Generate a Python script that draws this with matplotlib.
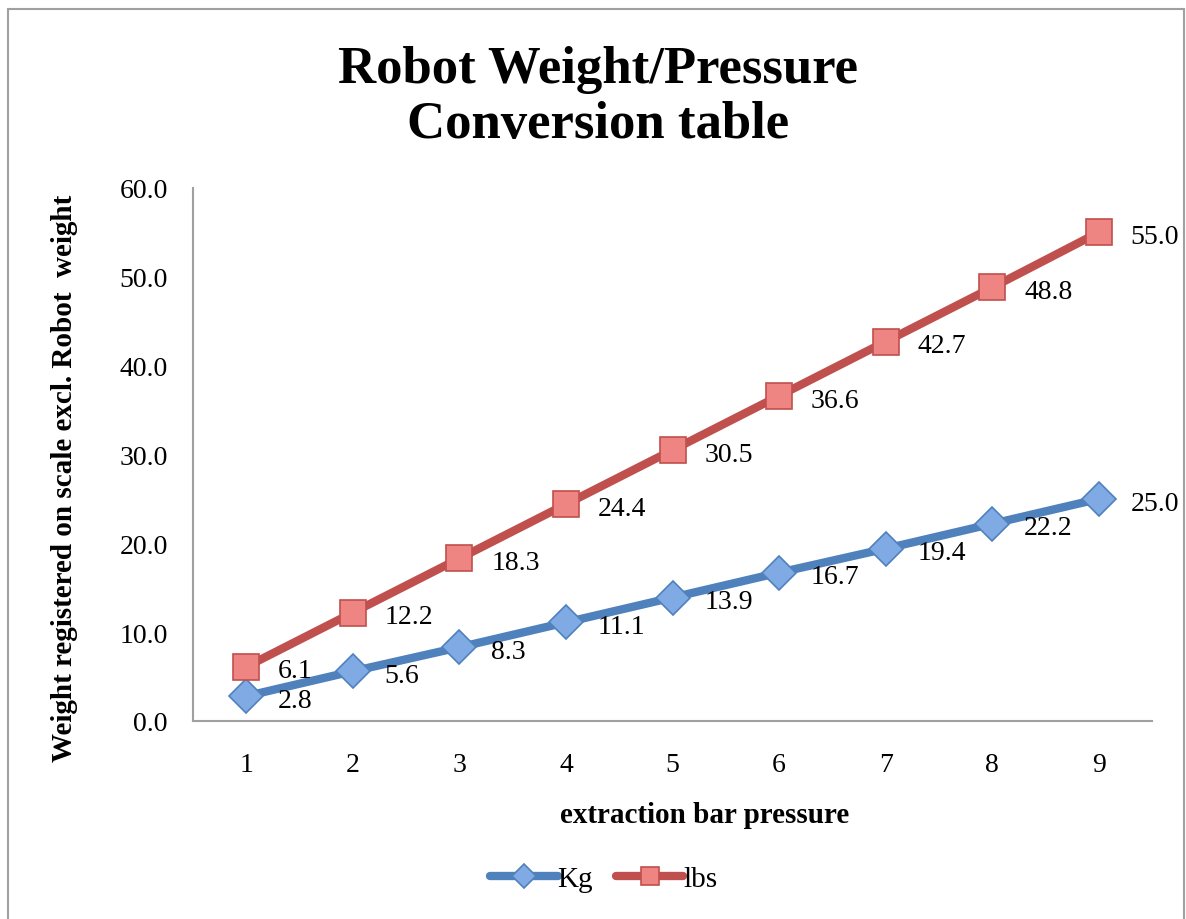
import matplotlib.pyplot as plt
from matplotlib.patches import Rectangle

# data
pressure = [1, 2, 3, 4, 5, 6, 7, 8, 9]
kg = [2.8, 5.6, 8.3, 11.1, 13.9, 16.7, 19.4, 22.2, 25.0]
lbs = [6.1, 12.2, 18.3, 24.4, 30.5, 36.6, 42.7, 48.8, 55.0]
yticks = [0, 10, 20, 30, 40, 50, 60]

plt.rcParams['font.family'] = ['Liberation Serif', 'DejaVu Serif']

W, H = 1186, 920
fig = plt.figure(figsize=(W / 100, H / 100), dpi=100)
# outer chart frame (bottom edge is cut off in the original)
fig.patches.append(Rectangle((8 / W, -0.02), 1176 / W, 1.02 - 10 / H,
                             transform=fig.transFigure, fill=False,
                             edgecolor='#a0a0a0', linewidth=1.5))

ax = fig.add_axes([193 / W, (H - 722) / H, (1152 - 193) / W, (722 - 189) / H])

ax.plot(pressure, kg, color='#4F81BD', linewidth=6, marker='D', markersize=17,
        markerfacecolor='#7FAAE3', markeredgecolor='#4F81BD', markeredgewidth=1.2,
        solid_capstyle='round', label='Kg', zorder=3)
ax.plot(pressure, lbs, color='#C0504D', linewidth=6, marker='s', markersize=19,
        markerfacecolor='#EE8583', markeredgecolor='#C0504D', markeredgewidth=1.2,
        solid_capstyle='round', label='lbs', zorder=3)

for x, y in zip(pressure, kg):
    ax.annotate(f'{y:.1f}', (x, y), xytext=(23, -3), textcoords='offset points',
                ha='left', va='center', fontsize=20)
for x, y in zip(pressure, lbs):
    ax.annotate(f'{y:.1f}', (x, y), xytext=(23, -3), textcoords='offset points',
                ha='left', va='center', fontsize=20)

ax.set_xlim(0.5, 9.5)
ax.set_ylim(0, 60)
ax.set_xticks(pressure)
ax.set_yticks(yticks)
ax.set_yticklabels([f'{v:.1f}' for v in yticks])
ax.tick_params(length=0, labelsize=20)
ax.tick_params(axis='y', pad=18)
ax.tick_params(axis='x', pad=22)
for s in ['top', 'right']:
    ax.spines[s].set_visible(False)
for s in ['left', 'bottom']:
    ax.spines[s].set_color('#a0a0a0')
    ax.spines[s].set_linewidth(1.5)

fig.text(598 / W, 1 - 70 / H, 'Robot Weight/Pressure', ha='center', va='center',
         fontsize=38, fontweight='bold')
fig.text(598 / W, 1 - 125 / H, 'Conversion table', ha='center', va='center',
         fontsize=38, fontweight='bold')
fig.text(705 / W, 1 - 816 / H, 'extraction bar pressure', ha='center', va='center',
         fontsize=21, fontweight='bold')
fig.text(65 / W, 1 - 478 / H, 'Weight registered on scale excl. Robot  weight',
         ha='center', va='center', rotation=90, fontsize=21, fontweight='bold')

fig.legend(loc='center', bbox_to_anchor=(604 / W, 1 - 880 / H), ncol=2, frameon=False,
           fontsize=21, handlelength=2.3, handletextpad=0.0, columnspacing=0.8,
           markerscale=0.7)

fig.savefig('out.png', dpi=100)
